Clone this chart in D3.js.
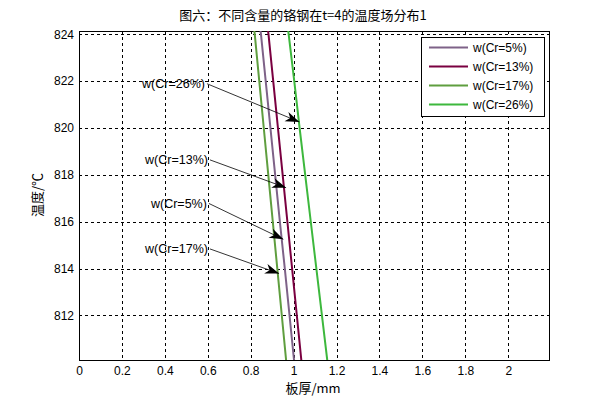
<!DOCTYPE html>
<html>
<head>
<meta charset="utf-8">
<script src="https://cdn.jsdelivr.net/npm/d3@7"></script>
<style>
  body { margin: 0; background: #fff; }
  svg text { font-family: "Liberation Sans", Arial, sans-serif; }
</style>
</head>
<body>
<svg id="chart" width="606" height="404"></svg>
<script>
// temperatures (degC) at which the thickness of each steel is read
const temps = [810, 812, 814, 816, 818, 820, 822, 824, 824.2];
const seriesNames = ["w(Cr=5%)", "w(Cr=13%)", "w(Cr=17%)", "w(Cr=26%)"];
const cr5 = [1.003, 0.981, 0.959, 0.936, 0.914, 0.892, 0.870, 0.848, 0.845];
const cr13 = [1.037, 1.015, 0.993, 0.971, 0.949, 0.927, 0.905, 0.883, 0.880];
const cr17 = [0.966, 0.945, 0.924, 0.903, 0.882, 0.861, 0.840, 0.819, 0.816];
const cr26 = [1.158, 1.132, 1.106, 1.080, 1.054, 1.028, 1.003, 0.977, 0.974];
const colors = ["#7e6288", "#7a0040", "#5f9e3f", "#3db83d"];

const xTicks = [0, 0.2, 0.4, 0.6, 0.8, 1, 1.2, 1.4, 1.6, 1.8, 2];
const yTicks = [812, 814, 816, 818, 820, 822, 824];

// annotations: label, text-end point, arrow tip (data coords)
const notes = [
  { label: "w(Cr=26%)", x0: 0.587, y0: 821.89, x1: 1.027, y1: 820.26 },
  { label: "w(Cr=13%)", x0: 0.601, y0: 818.64, x1: 0.965, y1: 817.45 },
  { label: "w(Cr=5%)",  x0: 0.596, y0: 816.78, x1: 0.952, y1: 815.25 },
  { label: "w(Cr=17%)", x0: 0.601, y0: 814.84, x1: 0.932, y1: 813.79 }
];

const margin = { top: 31, right: 57, bottom: 44, left: 79 };
const width = 606 - margin.left - margin.right;
const height = 404 - margin.top - margin.bottom;

const series = [cr5, cr13, cr17, cr26];

const x = d3.scaleLinear().domain([0, 2.19]).range([0, width]);
const y = d3.scaleLinear().domain([810.1, 824.14]).range([height, 0]);

const svg = d3.select("#chart");
const g = svg.append("g")
  .attr("transform", "translate(" + margin.left + "," + margin.top + ")");

svg.append("defs").append("clipPath").attr("id", "clip")
  .append("rect").attr("width", width).attr("height", height);

// grid
g.append("g").selectAll("line")
  .data(xTicks.filter(d => d > 0))
  .enter().append("line")
  .attr("x1", d => Math.round(x(d)) + 0.5).attr("x2", d => Math.round(x(d)) + 0.5)
  .attr("y1", 0).attr("y2", height)
  .attr("stroke", "#000").attr("stroke-dasharray", "3,3");

g.append("g").selectAll("line")
  .data(yTicks)
  .enter().append("line")
  .attr("y1", d => Math.round(y(d)) + 0.5).attr("y2", d => Math.round(y(d)) + 0.5)
  .attr("x1", 0).attr("x2", width)
  .attr("stroke", "#000").attr("stroke-dasharray", "3,3");

// axes
const xAxis = g.append("g")
  .attr("transform", "translate(0," + height + ")")
  .call(d3.axisBottom(x).tickValues(xTicks).tickSize(0).tickPadding(6).tickFormat(d3.format("")));
const yAxis = g.append("g")
  .call(d3.axisLeft(y).tickValues(yTicks).tickSize(0).tickPadding(5));
[xAxis, yAxis].forEach(a => {
  a.select(".domain").remove();
  a.selectAll("text").attr("font-size", 12).attr("fill", "#000")
    .style("font-family", "'Liberation Sans', Arial, sans-serif");
});

// box
g.append("rect").attr("x", 0.5).attr("y", 0.5)
  .attr("width", width).attr("height", height)
  .attr("fill", "none").attr("stroke", "#000");

// data lines
const line = d3.line()
  .x(d => x(d[0]))
  .y(d => y(d[1]));

series.forEach((s, i) => {
  g.append("path")
    .datum(s.map((v, j) => [v, temps[j]]))
    .attr("clip-path", "url(#clip)")
    .attr("fill", "none")
    .attr("stroke", colors[i])
    .attr("stroke-width", 2)
    .attr("d", line);
});

// annotations with arrows
notes.forEach(n => {
  const sx = x(n.x0) + 2, sy = y(n.y0);
  const ex = x(n.x1), ey = y(n.y1);
  const ang = Math.atan2(ey - sy, ex - sx);
  g.append("line")
    .attr("x1", sx).attr("y1", sy).attr("x2", ex).attr("y2", ey)
    .attr("stroke", "#000").attr("stroke-width", 0.8);
  g.append("path")
    .attr("d", "M0,0 L-14,-5 L-10,0 L-14,5 Z")
    .attr("transform", "translate(" + ex + "," + ey + ") rotate(" + (ang * 180 / Math.PI) + ")")
    .attr("fill", "#000");
  g.append("text")
    .attr("x", x(n.x0)).attr("y", y(n.y0))
    .attr("dy", "0.35em")
    .attr("text-anchor", "end")
    .attr("font-size", 12.5)
    .text(n.label);
});

// legend
const legend = g.append("g").attr("transform", "translate(" + (421 - margin.left) + "," + (37 - margin.top) + ")");
legend.append("rect")
  .attr("x", 0.5).attr("y", 0.5).attr("width", 123).attr("height", 79)
  .attr("fill", "#fff").attr("stroke", "#000");
seriesNames.forEach((name, i) => {
  const ly = 10.5 + i * 19;
  legend.append("line")
    .attr("x1", 8).attr("x2", 47).attr("y1", ly).attr("y2", ly)
    .attr("stroke", colors[i]).attr("stroke-width", 2);
  legend.append("text")
    .attr("x", 52).attr("y", ly).attr("dy", "0.35em")
    .attr("font-size", 12)
    .text(name);
});

// titles
svg.append("text")
  .attr("x", 303).attr("y", 20)
  .attr("text-anchor", "middle")
  .attr("font-size", 13)
  .style("font-family", "'Noto Sans CJK SC', sans-serif")
  .text("图六：不同含量的铬钢在t=4的温度场分布1");

svg.append("text")
  .attr("x", 313).attr("y", 393)
  .attr("text-anchor", "middle")
  .attr("font-size", 13)
  .style("font-family", "'Noto Sans CJK SC', sans-serif")
  .text("板厚/mm");

svg.append("text")
  .attr("transform", "translate(42,195) rotate(-90)")
  .attr("text-anchor", "middle")
  .attr("font-size", 13)
  .style("font-family", "'Noto Sans CJK SC', sans-serif")
  .text("温度/℃");
</script>
</body>
</html>
